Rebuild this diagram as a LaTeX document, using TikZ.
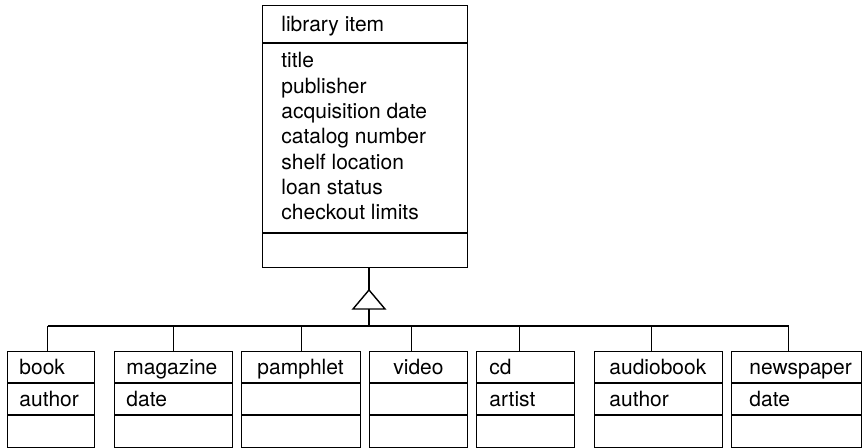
\documentclass[tikz,border=0pt]{standalone}
\usepackage{fontspec}
\setmainfont{TeX Gyre Heros}
\usepackage{tikz}

\tikzset{
  box/.style={draw, line width=0.7pt, inner sep=0pt, anchor=north west},
  lbl/.style={anchor=base west, inner sep=0pt, font=\fontsize{10.5}{12.65}\selectfont},
  link/.style={line width=0.7pt}
}

\begin{document}
\begin{tikzpicture}[x=0.5pt, y=-0.5pt]
\useasboundingbox (0,0) rectangle (862,448);

% Superclass
\node[box, minimum width=102.5pt, minimum height=131pt] (item) at (262,5) {};
\draw[link] ([yshift=-19pt]item.north west) -- ([yshift=-19pt]item.north east);
\draw[link] ([yshift=-114pt]item.north west) -- ([yshift=-114pt]item.north east);
\node[lbl] (item-t) at ([xshift=9.5pt, yshift=-13.5pt]item.north west) {library item};
\foreach \a [count=\i] in {title,publisher,acquisition date,catalog number,shelf location,loan status,checkout limits}
    \node[lbl] (item-\i) at ([xshift=9.5pt, yshift={-31.5pt-(\i-1)*12.65pt}]item.north west) {\a};

% Generalization arrow
\coordinate (tip) at (369,290);
\coordinate (base) at (369,309);
\coordinate (bar) at (369,326);
\draw[link] (item.south -| tip) -- (tip);
\draw[link, line join=miter] (tip) -- ([xshift=-8pt]base) -- ([xshift=8pt]base) -- cycle;
\draw[link] (base) -- (bar);

% Subclasses
\foreach \nm/\x/\w/\p/\o in {book/7/43.5/6/-1.75, magazine/114/59/6/0, pamphlet/241/59.5/8/0.25,
    video/369/49/12/-3.5, cd/476/49/6.5/-3, audiobook/594/64/7.5/-3.5, newspaper/731/65/9/-4} {
    \node[box, minimum width=\w pt, minimum height=48pt] (\nm) at (\x,351) {};
    \draw[link] ([yshift=-16pt]\nm.north west) -- ([yshift=-16pt]\nm.north east);
    \draw[link] ([yshift=-32pt]\nm.north west) -- ([yshift=-32pt]\nm.north east);
    \node[lbl] (\nm-t) at ([xshift=\p pt, yshift=-12pt]\nm.north west) {\nm};
    \coordinate (\nm-c) at ([xshift=\o pt]\nm.north);
    \draw[link] (\nm-c) -- (\nm-c |- bar);
}
\draw[link] (book-c |- bar) -- (newspaper-c |- bar);

% Attributes
\foreach \nm/\a in {book/author, magazine/date, cd/artist, audiobook/author, newspaper/date}
    \node[lbl] (\nm-a) at ([yshift=-16pt]\nm-t.base west) {\a};

\end{tikzpicture}
\end{document}
